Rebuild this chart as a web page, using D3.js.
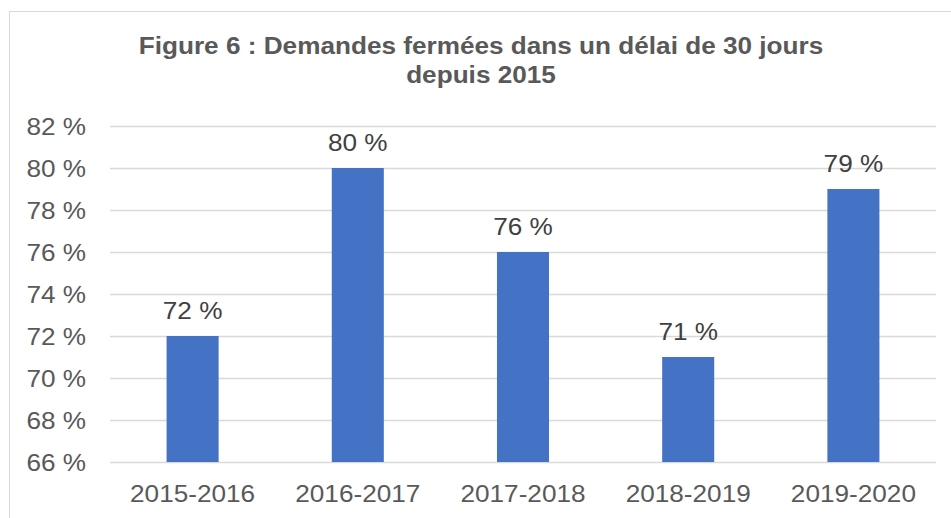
<!DOCTYPE html>
<html>
<head>
<meta charset="utf-8">
<script src="https://cdn.jsdelivr.net/npm/d3@7"></script>
<style>
  body { margin: 0; background: #fff; }
  svg text { font-family: "Liberation Sans", Arial, sans-serif; }
</style>
</head>
<body>
<div id="chart"></div>
<script>
// Chart data
const periods = ["2015-2016", "2016-2017", "2017-2018", "2018-2019", "2019-2020"];
const rates = [72, 80, 76, 71, 79];
const yTicks = [66, 68, 70, 72, 74, 76, 78, 80, 82];
const titleLines = ["Figure 6 : Demandes fermées dans un délai de 30 jours", "depuis 2015"];

const W = 951, H = 518;
const plot = {left: 110, right: 936, top: 126, bottom: 462};
// the source picture is a bit wider than tall, so text is stretched sideways
const stretch = 1.09;
const place = (px, py) => `translate(${px},${py}) scale(${stretch},1)`;

const svg = d3.select("#chart")
    .append("svg")
    .attr("width", W)
    .attr("height", H);

// Chart frame
svg.append("rect")
    .attr("x", 9.5)
    .attr("y", 11.5)
    .attr("width", W + 20)
    .attr("height", H + 20)
    .attr("fill", "#fff")
    .attr("stroke", "#d9d9d9")
    .attr("stroke-width", 1);

// Title
svg.append("g").selectAll("text")
    .data(titleLines)
    .enter()
    .append("text")
    .attr("transform", (d, i) => place(481, 54 + i * 29))
    .attr("text-anchor", "middle")
    .attr("font-size", 24)
    .attr("font-weight", "bold")
    .attr("fill", "#595959")
    .text(d => d);

// Scales
const x = d3.scaleBand()
    .domain(periods)
    .range([plot.left, plot.right])
    .padding(0);

const y = d3.scaleLinear()
    .domain([66, 82])
    .range([plot.bottom, plot.top]);

const barW = x.bandwidth() * 0.315;

// Gridlines
svg.append("g")
    .selectAll("line")
    .data(yTicks)
    .enter()
    .append("line")
    .attr("x1", plot.left)
    .attr("x2", plot.right)
    .attr("y1", d => Math.round(y(d)) + 0.5)
    .attr("y2", d => Math.round(y(d)) + 0.5)
    .attr("stroke", "#d9d9d9")
    .attr("stroke-width", 1.3);

// Y axis labels
svg.append("g")
    .selectAll("text")
    .data(yTicks)
    .enter()
    .append("text")
    .attr("transform", d => place(86, y(d) + 9))
    .attr("text-anchor", "end")
    .attr("font-size", 24)
    .attr("fill", "#595959")
    .text(d => d + " %");

// Bars
svg.append("g")
    .selectAll("rect")
    .data(rates)
    .enter()
    .append("rect")
    .attr("x", (d, i) => x(periods[i]) + (x.bandwidth() - barW) / 2)
    .attr("y", d => y(d))
    .attr("width", barW)
    .attr("height", d => y(66) - y(d))
    .attr("fill", "#4472c4");

// Value labels
svg.append("g")
    .selectAll("text")
    .data(rates)
    .enter()
    .append("text")
    .attr("transform", (d, i) => place(x(periods[i]) + x.bandwidth() / 2, y(d) - 17))
    .attr("text-anchor", "middle")
    .attr("font-size", 24)
    .attr("fill", "#404040")
    .text(d => d + " %");

// Category labels
svg.append("g")
    .selectAll("text")
    .data(periods)
    .enter()
    .append("text")
    .attr("transform", d => place(x(d) + x.bandwidth() / 2, 502))
    .attr("text-anchor", "middle")
    .attr("font-size", 24)
    .attr("fill", "#595959")
    .text(d => d);
</script>
</body>
</html>
